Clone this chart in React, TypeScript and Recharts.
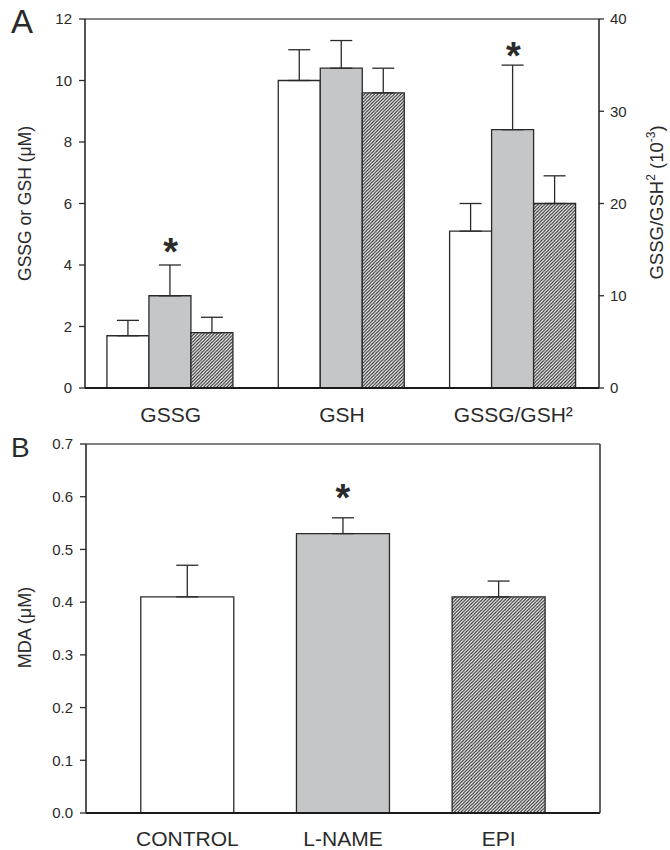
import React from 'react';
import { ComposedChart, Bar, XAxis, YAxis, ErrorBar, Scatter, ReferenceLine, Cell, Label } from 'recharts';

// ---------- Panel A data ----------
const categoriesA = ['GSSG', 'GSH']; // left axis, μM
const controlUM = [1.7, 10.0];
const controlErrUM = [0.5, 1.0];
const lnameUM = [3.0, 10.4];
const lnameErrUM = [1.0, 0.9];
const epiUM = [1.8, 9.6];
const epiErrUM = [0.5, 0.8];

const ratioCategory = 'GSSG/GSH²'; // right axis, 10^-3
const ratioValues = [17, 28, 20]; // control, L-NAME, EPI
const ratioErrors = [3, 7, 3];

const starsUM = [4.7, null]; // asterisk heights on the μM axis (GSSG, GSH)
const starRatio = 36.9; // asterisk height on the ratio axis

const leftTicksA = [0, 2, 4, 6, 8, 10, 12];
const rightTicksA = [0, 10, 20, 30, 40];

// ---------- Panel B data ----------
const categoriesB = ['CONTROL', 'L-NAME', 'EPI'];
const mdaValues = [0.41, 0.53, 0.41];
const mdaErrors = [0.06, 0.03, 0.03];
const starsB = [null, 0.614, null];
const ticksB = [0, 0.1, 0.2, 0.3, 0.4, 0.5, 0.6, 0.7];

const FONT = 'Liberation Sans, Arial, Helvetica, sans-serif';
const INK = '#2a2a2a';
const GRAY = '#c5c6c8';
const HATCH = 'url(#hatch)';

const leftMax = leftTicksA[leftTicksA.length - 1];
const rightMax = rightTicksA[rightTicksA.length - 1];
const k = leftMax / rightMax;

const dataA = [
  ...categoriesA.map((c, i) => ({
    cat: c,
    control: controlUM[i], controlErr: controlErrUM[i],
    lname: lnameUM[i], lnameErr: lnameErrUM[i],
    epi: epiUM[i], epiErr: epiErrUM[i],
    star: starsUM[i], starR: null as number | null,
  })),
  {
    cat: ratioCategory,
    control: ratioValues[0] * k, controlErr: ratioErrors[0] * k,
    lname: ratioValues[1] * k, lnameErr: ratioErrors[1] * k,
    epi: ratioValues[2] * k, epiErr: ratioErrors[2] * k,
    star: null as number | null, starR: starRatio,
  },
];

const dataB = categoriesB.map((c, i) => ({ cat: c, mda: mdaValues[i], err: mdaErrors[i], star: starsB[i] }));
const fillsB = ['#ffffff', GRAY, HATCH];

const makeStar = (key: string) => (props: any) => {
  const { cx, cy, payload } = props;
  if (payload == null || payload[key] == null || cx == null || cy == null || isNaN(cy)) return <g />;
  const fs = 38;
  return (
    <text x={cx} y={cy + 0.575 * fs} textAnchor="middle" fontSize={fs} fontWeight="bold" fontFamily={FONT} fill={INK}>
      *
    </text>
  );
};
const StarShape = makeStar('star');
const StarShapeR = makeStar('starR');

const LeftTitleA = (props: any) => {
  const vb = props.viewBox || {};
  const x = vb.x + 31;
  const y = vb.y + vb.height / 2;
  return (
    <text x={x} y={y} transform={`rotate(-90 ${x} ${y})`} textAnchor="middle" fontSize={17.5} fontFamily={FONT} fill={INK}>
      GSSG or GSH (μM)
    </text>
  );
};

const RightTitleA = (props: any) => {
  const vb = props.viewBox || {};
  const x = vb.x + 64;
  const y = vb.y + vb.height / 2 - 1;
  return (
    <text x={x} y={y} transform={`rotate(-90 ${x} ${y})`} textAnchor="middle" fontSize={18.5} fontFamily={FONT} fill={INK}>
      GSSG/GSH
      <tspan fontSize={12} dy={-8}>2</tspan>
      <tspan dy={8}> (10</tspan>
      <tspan fontSize={12} dy={-8}>-3</tspan>
      <tspan dy={8}>)</tspan>
    </text>
  );
};

const LeftTitleB = (props: any) => {
  const vb = props.viewBox || {};
  const x = vb.x + 31;
  const y = vb.y + vb.height / 2 - 1;
  return (
    <text x={x} y={y} transform={`rotate(-90 ${x} ${y})`} textAnchor="middle" fontSize={18} fontFamily={FONT} fill={INK}>
      MDA (μM)
    </text>
  );
};

const tickStyle = { fontSize: 15, fill: INK, fontFamily: FONT };
const xTickStyle = { fontSize: 21, fill: INK, fontFamily: FONT };
const axisLineY = { stroke: INK, strokeWidth: 1.6 };
const axisLineX = { stroke: '#1a1a1a', strokeWidth: 2.2 };
const tickLineY = { stroke: INK, strokeWidth: 1.3 };

const S = 3.3;

export default function App() {
  return (
    <div style={{ position: 'absolute', left: 0, top: 0, width: 670, height: 850, background: '#fff' }}>
      <svg width={0} height={0} style={{ position: 'absolute' }}>
        <defs>
          <pattern id="hatch" patternUnits="userSpaceOnUse" width={S} height={S}>
            <rect width={S} height={S} fill="#ffffff" />
            <path d={`M${-S / 2},${S / 2} L${S / 2},${-S / 2} M0,${S} L${S},0 M${S / 2},${S * 1.5} L${S * 1.5},${S / 2}`}
              stroke="#2a2a2a" strokeWidth={1.15} />
          </pattern>
        </defs>
      </svg>

      <div style={{ position: 'absolute', left: 0, top: 0 }}>
        <ComposedChart width={670} height={425} data={dataA} margin={{ top: 19, right: 0, bottom: 0, left: 0 }}
          barCategoryGap="12.8%" barGap={0}>
          <XAxis dataKey="cat" height={37} tickLine={false} axisLine={axisLineX} tick={xTickStyle} tickMargin={13} interval={0} />
          <YAxis yAxisId="left" width={85} domain={[0, leftMax]} ticks={leftTicksA} interval={0}
            tick={tickStyle} tickSize={6} tickMargin={7} tickLine={tickLineY} axisLine={axisLineY}>
            <Label content={<LeftTitleA />} />
          </YAxis>
          <YAxis yAxisId="right" orientation="right" width={71} domain={[0, rightMax]} ticks={rightTicksA} interval={0}
            tick={tickStyle} tickSize={5} tickMargin={6} tickLine={tickLineY} axisLine={axisLineY}>
            <Label content={<RightTitleA />} />
          </YAxis>
          <ReferenceLine yAxisId="left" y={leftMax} stroke="#5a5a5a" strokeWidth={1.5} />
          <Bar yAxisId="left" dataKey="control" fill="#ffffff" stroke={INK} strokeWidth={1.3} isAnimationActive={false}>
            <ErrorBar dataKey={(d: any) => [0, d.controlErr]} direction="y" width={11} stroke={INK} strokeWidth={1.3} />
          </Bar>
          <Bar yAxisId="left" dataKey="lname" fill={GRAY} stroke={INK} strokeWidth={1.3} isAnimationActive={false}>
            <ErrorBar dataKey={(d: any) => [0, d.lnameErr]} direction="y" width={11} stroke={INK} strokeWidth={1.3} />
          </Bar>
          <Bar yAxisId="left" dataKey="epi" fill={HATCH} stroke={INK} strokeWidth={1.3} isAnimationActive={false}>
            <ErrorBar dataKey={(d: any) => [0, d.epiErr]} direction="y" width={11} stroke={INK} strokeWidth={1.3} />
          </Bar>
          <Scatter yAxisId="left" dataKey="star" shape={StarShape} isAnimationActive={false} />
          <Scatter yAxisId="right" dataKey="starR" shape={StarShapeR} isAnimationActive={false} />
        </ComposedChart>
      </div>

      <div style={{ position: 'absolute', left: 0, top: 425 }}>
        <ComposedChart width={670} height={425} data={dataB} margin={{ top: 19, right: 0, bottom: 0, left: 0 }}
          barCategoryGap="20.1%">
          <XAxis dataKey="cat" height={37} tickLine={false} axisLine={axisLineX} tick={xTickStyle} tickMargin={12}
            interval={0} padding={{ left: 23.5, right: 23.5 }} />
          <YAxis yAxisId="left" width={86} domain={[0, 0.7]} ticks={ticksB} interval={0}
            tickFormatter={(v: number) => v.toFixed(1)}
            tick={tickStyle} tickSize={6} tickMargin={7} tickLine={tickLineY} axisLine={axisLineY}>
            <Label content={<LeftTitleB />} />
          </YAxis>
          <YAxis yAxisId="frame" orientation="right" width={70} domain={[0, 0.7]} tick={false} tickLine={false}
            axisLine={{ stroke: '#3a3a3a', strokeWidth: 1.6 }} />
          <ReferenceLine yAxisId="left" y={0.7} stroke="#5a5a5a" strokeWidth={1.5} />
          <Bar yAxisId="left" dataKey="mda" stroke={INK} strokeWidth={1.3} isAnimationActive={false}>
            {dataB.map((d, i) => (
              <Cell key={d.cat} fill={fillsB[i]} />
            ))}
            <ErrorBar dataKey={(d: any) => [0, d.err]} direction="y" width={11} stroke={INK} strokeWidth={1.3} />
          </Bar>
          <Scatter yAxisId="left" dataKey="star" shape={StarShape} isAnimationActive={false} />
        </ComposedChart>
      </div>

      <svg width={670} height={850} style={{ position: 'absolute', left: 0, top: 0, pointerEvents: 'none' }}>
        <text x={11} y={33} fontSize={33} fontFamily={FONT} fill={INK}>A</text>
        <text x={11} y={457} fontSize={28} fontFamily={FONT} fill={INK}>B</text>
      </svg>
    </div>
  );
}
